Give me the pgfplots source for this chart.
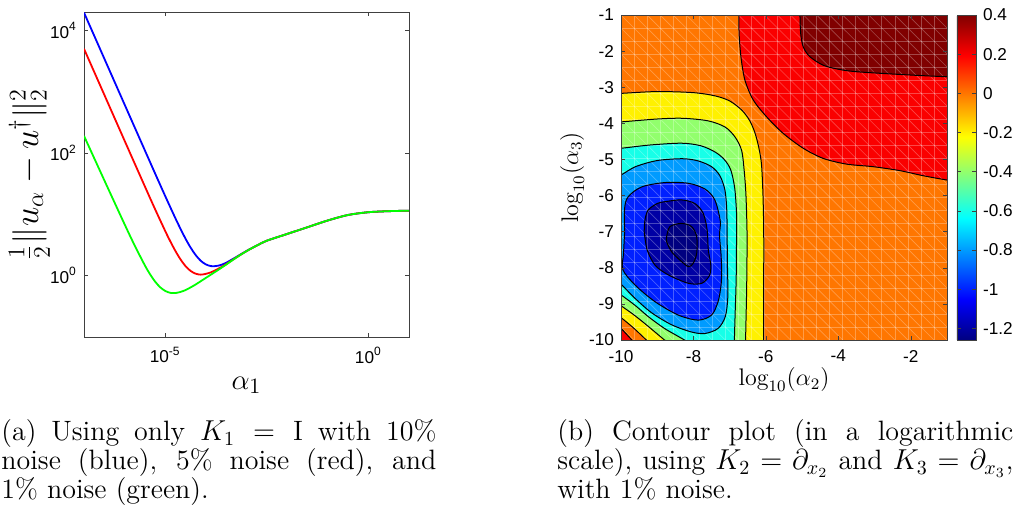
\documentclass[border=0pt]{standalone}
\usepackage{fontspec}
\usepackage{amsmath}
\usepackage{pgfplots}
\usepackage{pgfplotstable}
\pgfplotsset{compat=1.18}
\newfontfamily\tickfont{Liberation Sans}

% contour level colours (jet, -1.26 .. 0.4)
\definecolor{lvA}{RGB}{0,0,128}
\definecolor{lvB}{RGB}{0,0,164}
\definecolor{lvC}{RGB}{0,32,255}
\definecolor{lvD}{RGB}{0,155,255}
\definecolor{lvE}{RGB}{23,255,232}
\definecolor{lvF}{RGB}{146,255,109}
\definecolor{lvG}{RGB}{255,241,0}
\definecolor{lvH}{RGB}{255,118,0}
\definecolor{lvI}{RGB}{250,0,0}
\definecolor{lvJ}{RGB}{128,0,0}

\pgfplotsset{
  mframe/.style={scale only axis, axis line style={black!75}, tick style={black!75},
    tick align=inside, major tick length=2.2pt,
    tick label style={font=\tickfont\fontsize{8.6}{10}\selectfont},
    label style={font=\fontsize{12}{14}\selectfont}},
  cline/.style={black, line width=0.5pt, smooth},
}

% left panel, log10 values
\pgfplotstableread{
x y
-7 4.29
-6.5 3.54
-6 2.79
-5.5 2.041
-5.25 1.667
-5 1.297
-4.75 0.936
-4.625 0.765
-4.5 0.602
-4.375 0.457
-4.25 0.335
-4.125 0.242
-4 0.184
-3.875 0.156
-3.75 0.157
-3.625 0.176
-3.5 0.211
-3.375 0.257
-3.25 0.305
-3 0.403
-2.75 0.49
-2.5 0.57
-2 0.68
-1.5 0.79
-1 0.90
-0.5 0.99
0 1.035
0.5 1.052
1 1.06
}\blueerr
\pgfplotstableread{
x y
-7 3.70
-6.5 2.95
-6 2.200
-5.5 1.453
-5.25 1.084
-5 0.727
-4.875 0.559
-4.75 0.403
-4.625 0.266
-4.5 0.155
-4.375 0.077
-4.25 0.032
-4.125 0.017
-4 0.030
-3.875 0.055
-3.75 0.094
-3.625 0.138
-3.5 0.188
-3.25 0.298
-3 0.40
-2.75 0.49
-2.5 0.57
-2 0.68
-1.5 0.79
-1 0.90
-0.5 0.99
0 1.035
0.5 1.052
1 1.06
}\rederr
\pgfplotstableread{
x y
-7 2.280
-6.5 1.556
-6 0.837
-5.75 0.489
-5.5 0.166
-5.375 0.024
-5.25 -0.096
-5.125 -0.189
-5 -0.249
-4.875 -0.280
-4.75 -0.283
-4.625 -0.265
-4.5 -0.235
-4.375 -0.191
-4.25 -0.143
-4 -0.036
-3.75 0.071
-3.5 0.181
-3.25 0.296
-3 0.40
-2.75 0.49
-2.5 0.57
-2 0.68
-1.5 0.79
-1 0.90
-0.5 0.99
0 1.035
0.5 1.052
1 1.06
}\greenerr

% right panel, contour lines (points beyond the frame are clipped)
\pgfplotstableread{
x y
-6.75 -0.6
-6.745 -1
-6.74 -1.51
-6.69 -2.15
-6.58 -2.80
-6.35 -3.35
-5.98 -3.82
-5.52 -4.28
-4.97 -4.69
-4.42 -4.97
-3.77 -5.13
-3.04 -5.20
-2.30 -5.31
-1.66 -5.45
-1.0 -5.57
-0.6 -5.62
0 0
}\lvup
\pgfplotstableread{
x y
-5.07 -0.6
-5.06 -1
-5.04 -1.51
-4.97 -1.88
-4.79 -2.15
-4.42 -2.39
-3.96 -2.51
-3.50 -2.57
-2.58 -2.63
-1.66 -2.68
-1.0 -2.71
-0.6 -2.73
0 0
}\lvtop
\pgfplotstableread{
x y
-10.4 -3.19
-10 -3.17
-9 -3.12
-8 -3.15
-7.4 -3.24
-7.0 -3.38
-6.67 -3.63
-6.45 -3.92
-6.30 -4.27
-6.19 -4.7
-6.12 -5.15
-6.08 -6.0
-6.06 -7.0
-6.06 -8.5
-6.06 -10
-6.06 -10.4
-11 -11
}\cZero
\pgfplotstableread{
x y
-10.4 -3.98
-10 -3.96
-9 -3.88
-8.3 -3.86
-7.6 -3.93
-7.13 -4.1
-6.85 -4.38
-6.67 -4.75
-6.6 -5.3
-6.55 -6.0
-6.52 -7.1
-6.53 -8.5
-6.55 -9.5
-6.56 -10
-6.56 -10.4
-11 -11
}\cOne
\pgfplotstableread{
x y
-10.4 -4.71
-10 -4.69
-9.2 -4.6
-8.33 -4.55
-7.8 -4.62
-7.41 -4.79
-7.15 -5.0
-6.97 -5.29
-6.86 -5.8
-6.81 -6.5
-6.81 -7.1
-6.82 -8.3
-6.85 -9.3
-6.87 -10
-6.88 -10.4
-11 -11
}\cTwo
\pgfplotstableread{
x y
-10.4 -5.6
-10 -5.43
-9.6 -5.2
-9.0 -5.03
-8.3 -4.98
-7.87 -5.04
-7.5 -5.2
-7.27 -5.45
-7.13 -5.85
-7.08 -6.4
-7.07 -7.09
-7.06 -8.0
-7.05 -8.8
-7.12 -9.35
-7.32 -9.68
-7.68 -9.82
-8.05 -9.78
-8.6 -9.58
-9.15 -9.25
-9.61 -8.85
-10 -8.45
-10.4 -8.05
-11 -6.8
}\cThree
\pgfplotstableread{
x y
-9.9 -7.0
-9.9 -6.35
-9.80 -6.03
-9.43 -5.76
-8.79 -5.64
-8.14 -5.66
-7.68 -5.82
-7.41 -6.12
-7.26 -6.7
-7.28 -7.1
-7.24 -7.6
-7.22 -8.1
-7.24 -8.5
-7.32 -8.94
-7.50 -9.31
-7.87 -9.45
-8.42 -9.31
-9.06 -8.94
-9.61 -8.48
-9.95 -8.05
-9.93 -7.6
-9.9 -7.0
}\cFour
\pgfplotstableread{
x y
-9.36 -7.0
-9.34 -6.68
-9.25 -6.40
-9.0 -6.22
-8.79 -6.17
-8.33 -6.12
-7.96 -6.22
-7.73 -6.49
-7.62 -6.96
-7.59 -7.5
-7.52 -7.93
-7.56 -8.22
-7.77 -8.43
-8.14 -8.43
-8.69 -8.20
-9.06 -7.93
-9.28 -7.5
-9.36 -7.0
}\cFive
\pgfplotstableread{
x y
-8.74 -7.14
-8.65 -6.86
-8.33 -6.77
-8.05 -6.86
-7.91 -7.14
-7.91 -7.60
-8.01 -7.88
-8.14 -7.97
-8.37 -7.79
-8.60 -7.56
-8.74 -7.28
-8.74 -7.14
}\cSix
\pgfplotstableread{
x y
-10.4 -8.47
-10 -8.75
-9.6 -9.05
-9.25 -9.35
-8.8 -9.68
-8.25 -10
-7.9 -10.25
-11 -11
}\cTwoLow
\pgfplotstableread{
x y
-10.4 -8.76
-10 -9.05
-9.65 -9.3
-9.3 -9.58
-8.8 -10
-8.5 -10.25
-11 -11
}\cOneLow
\pgfplotstableread{
x y
-10.4 -9.08
-10 -9.38
-9.65 -9.67
-9.3 -10
-9.0 -10.28
-11 -11
}\cZeroLow
\pgfplotstableread{
x y
-10.4 -9.33
-10 -9.68
-9.7 -10
-9.4 -10.3
-11 -11
}\cUpLow

\begin{document}
\begin{tikzpicture}
\path[use as bounding box] (0,0) rectangle (508pt,-253pt);

\begin{axis}[mframe,
  at={(42pt,-168.5pt)}, anchor=south west,
  width=162.5pt, height=162.5pt,
  xmin=-7, xmax=1, ymin=-1, ymax=4.3,
  xtick={-5,0}, xticklabels={10\textsuperscript{-5},10\textsuperscript{0}},
  ytick={0,2,4}, yticklabels={10\textsuperscript{0},10\textsuperscript{2},10\textsuperscript{4}},
  xticklabel style={yshift=-1.5pt},
  xlabel={$\alpha_1$},
  ylabel={$\frac{1}{2}\|u_\alpha - u^\dagger\|_2^2$},
  xlabel style={font=\fontsize{15}{18}\selectfont},
  ylabel style={font=\fontsize{17}{20}\selectfont},
  every axis x label/.append style={at={(axis description cs:0.5,-0.148)}, anchor=center},
  every axis y label/.append style={at={(axis description cs:-0.168,0.5)}, anchor=center},
]
\addplot[blue, line width=0.9pt, smooth] table {\blueerr};
\addplot[red, line width=0.9pt, smooth] table {\rederr};
\addplot[green, line width=0.9pt, smooth] table {\greenerr};
\end{axis}

\begin{axis}[mframe,
  at={(310.5pt,-170pt)}, anchor=south west,
  width=163pt, height=162.5pt,
  xmin=-10, xmax=-1, ymin=-10, ymax=-1,
  axis on top,
  xtick={-10,-8,-6,-4,-2}, xticklabels={-10,-8,-6,-4,-2},
  ytick={-10,-9,...,-1}, yticklabels={-10,-9,-8,-7,-6,-5,-4,-3,-2,-1},
  xticklabel style={yshift=-1.5pt},
  xlabel={$\log_{10}(\alpha_2)$},
  ylabel={$\log_{10}(\alpha_3)$},
  every axis x label/.append style={at={(axis description cs:0.5,-0.123)}, anchor=center},
  every axis y label/.append style={at={(axis description cs:-0.150,0.5)}, anchor=center},
  colormap={mjet}{rgb255(0)=(0,0,128) rgb255(1)=(0,0,255) rgb255(3)=(0,255,255)
    rgb255(5)=(255,255,0) rgb255(7)=(255,0,0) rgb255(8)=(128,0,0)},
  point meta min=-1.26, point meta max=0.4,
  colorbar,
  colorbar shift/.style={xshift=5pt},
  colorbar style={width=9.5pt, at={(parent axis.north east)}, anchor=north west,
    ytick={-1.2,-1,-0.8,-0.6,-0.4,-0.2,0,0.2,0.4},
    yticklabels={-1.2,-1,-0.8,-0.6,-0.4,-0.2,0,0.2,0.4},
    tick align=inside, major tick length=2pt,
    axis line style={black!75}, tick style={black!75},
    yticklabel style={font=\tickfont\fontsize{8.6}{10}\selectfont}},
]
\addplot[fill=lvH, draw=none] coordinates {(-11,-11) (0,-11) (0,0) (-11,0)};
\addplot[fill=lvI, draw=none, smooth] table {\lvup};
\addplot[fill=lvJ, draw=none, smooth] table {\lvtop};
\addplot[fill=lvG, draw=none, smooth] table {\cZero};
\addplot[fill=lvF, draw=none, smooth] table {\cOne};
\addplot[fill=lvE, draw=none, smooth] table {\cTwo};
\addplot[fill=lvD, draw=none, smooth] table {\cThree};
\addplot[fill=lvC, draw=none, smooth] table {\cFour};
\addplot[fill=lvB, draw=none, smooth] table {\cFive};
\addplot[fill=lvA, draw=none, smooth] table {\cSix};
\addplot[fill=lvF, draw=none, smooth] table {\cTwoLow};
\addplot[fill=lvG, draw=none, smooth] table {\cOneLow};
\addplot[fill=lvH, draw=none, smooth] table {\cZeroLow};
\addplot[fill=lvI, draw=none, smooth] table {\cUpLow};
% faint mesh of the rendered surface
\pgfplotsinvokeforeach{0,...,25}{
  \draw[white, opacity=0.28, line width=0.3pt] (axis cs:{-10+0.36*#1},-10) -- (axis cs:{-10+0.36*#1},-1);
  \draw[white, opacity=0.28, line width=0.3pt] (axis cs:-10,{-10+0.36*#1}) -- (axis cs:-1,{-10+0.36*#1});
}
\pgfplotsinvokeforeach{0,...,50}{
  \draw[white, opacity=0.28, line width=0.3pt] (axis cs:{-19+0.36*#1},-1) -- (axis cs:{-10+0.36*#1},-10);
}
\addplot[cline] table {\lvup};
\addplot[cline] table {\lvtop};
\addplot[cline] table {\cZero};
\addplot[cline] table {\cOne};
\addplot[cline] table {\cTwo};
\addplot[cline] table {\cThree};
\addplot[cline] table {\cFour};
\addplot[cline] table {\cFive};
\addplot[cline] table {\cSix};
\addplot[cline] table {\cTwoLow};
\addplot[cline] table {\cOneLow};
\addplot[cline] table {\cZeroLow};
\addplot[cline] table {\cUpLow};
\end{axis}

\begin{scope}[every node/.style={inner sep=0pt, anchor=base west, font=\fontsize{14}{14.5}\selectfont}]
\node at (0.5pt,-220.5pt) {\makebox[217.5pt][s]{(a) Using only $K_1 = \mathrm{I}$ with 10\%}};
\node at (0.5pt,-235pt) {\makebox[217.5pt][s]{noise (blue), 5\% noise (red), and}};
\node at (0.5pt,-249.5pt) {1\% noise (green).};
\node at (278.5pt,-220.5pt) {\makebox[228pt][s]{(b) Contour plot (in a logarithmic}};
\node at (278.5pt,-235pt) {\makebox[228pt][s]{scale), using $K_2 = \partial_{x_2}$ and $K_3 = \partial_{x_3}$,}};
\node at (278.5pt,-249.5pt) {with 1\% noise.};
\end{scope}
\end{tikzpicture}
\end{document}
